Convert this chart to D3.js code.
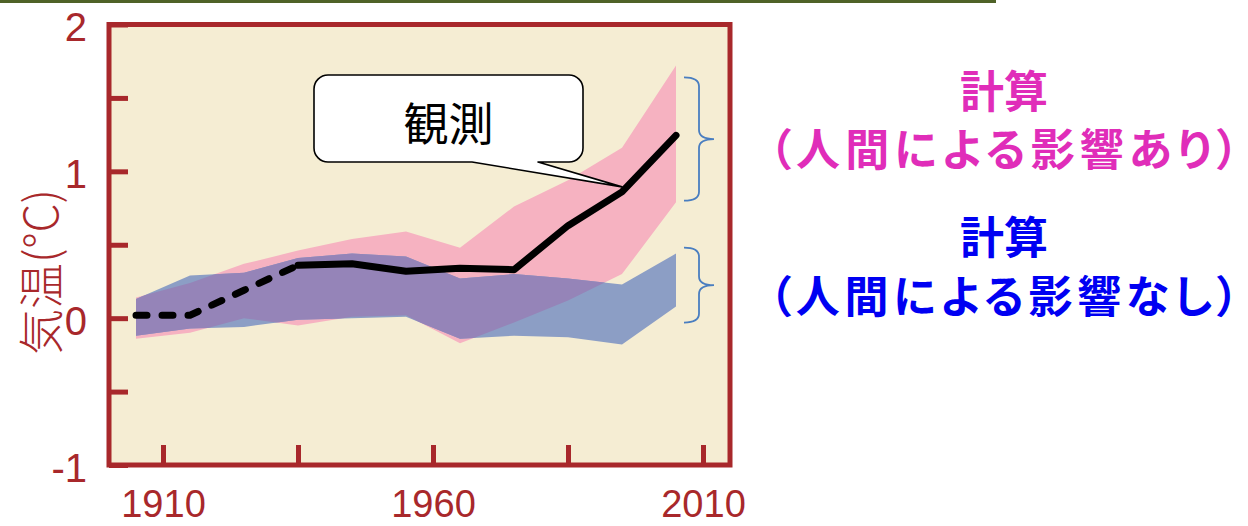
<!DOCTYPE html>
<html>
<head>
<meta charset="utf-8">
<script src="https://cdn.jsdelivr.net/npm/d3@7"></script>
<style>
  html, body { margin: 0; padding: 0; background: #ffffff; }
  svg { display: block; }
</style>
</head>
<body>
<svg id="chart" width="1248" height="526"></svg>
<script>
// Decade-centred years of the model ensembles and observations
const years = [1905, 1915, 1925, 1935, 1945, 1955, 1965, 1975, 1985, 1995, 2005];

// Observed temperature anomaly (°C)
const observed = [0.02, 0.02, 0.19, 0.36, 0.37, 0.32, 0.34, 0.33, 0.63, 0.86, 1.245];
// First observed points shown dashed (through 1935)
const dashedUntil = 1935;

// Model range with human influence (upper / lower)
const humanUpper = [0.14, 0.24, 0.37, 0.46, 0.54, 0.59, 0.48, 0.76, 0.94, 1.16, 1.72];
const humanLower = [-0.14, -0.10, 0.00, -0.05, 0.01, 0.02, -0.17, -0.03, 0.12, 0.30, 0.79];

// Model range with natural factors only (upper / lower)
const naturalUpper = [0.13, 0.29, 0.31, 0.41, 0.44, 0.42, 0.27, 0.30, 0.27, 0.23, 0.44];
const naturalLower = [-0.12, -0.07, -0.06, -0.01, 0.00, 0.01, -0.14, -0.12, -0.13, -0.18, 0.08];

// Axis ticks and labels
const xTicks = [1910, 1935, 1960, 1985, 2010];
const xLabelled = [1910, 1960, 2010];
const yTicks = [-1, -0.5, 0, 0.5, 1, 1.5, 2];
const yLabelled = [-1, 0, 1, 2];
const yTitle = "気温(°C)";

// Text blocks
const observedLabel = "観測";
const humanLabel = ["計算", "（人間による影響あり）"];
const naturalLabel = ["計算", "（人間による影響なし）"];
// Bracket extents (°C) at the right end of the bands
const humanBracket = [1.64, 0.80];
const naturalBracket = [0.48, -0.03];

const axisColor = "#a8282b";
const svg = d3.select("#chart");

// Olive rule across the top
svg.append("rect").attr("x", 0).attr("y", 0).attr("width", 996).attr("height", 3).attr("fill", "#4f6228");

const x = d3.scaleLinear().domain([1900, 2015]).range([109, 730]);
const y = d3.scaleLinear().domain([-1, 2]).range([465, 24.5]);

// Plot background
svg.append("rect")
  .attr("x", x(1900)).attr("y", y(2))
  .attr("width", x(2015) - x(1900)).attr("height", y(-1) - y(2))
  .attr("fill", "#f5edd3");

const rows = years.map((yr, i) => ({
  year: yr, obs: observed[i],
  hu: humanUpper[i], hl: humanLower[i],
  nu: naturalUpper[i], nl: naturalLower[i]
}));

const humanArea = d3.area().x(d => x(d.year)).y0(d => y(d.hl)).y1(d => y(d.hu));
const naturalArea = d3.area().x(d => x(d.year)).y0(d => y(d.nl)).y1(d => y(d.nu));

const defs = svg.append("defs");
defs.append("clipPath").attr("id", "humanClip")
  .append("path").attr("d", humanArea(rows));

svg.append("path").attr("d", humanArea(rows)).attr("fill", "#f6b2c1");
svg.append("path").attr("d", naturalArea(rows)).attr("fill", "#8c9ec5");
// Where both ranges overlap
svg.append("path").attr("d", naturalArea(rows)).attr("fill", "#9584b8")
  .attr("clip-path", "url(#humanClip)");

// Observations
const line = d3.line().x(d => x(d.year)).y(d => y(d.obs));
svg.append("path")
  .attr("d", line(rows.filter(d => d.year <= dashedUntil)))
  .attr("fill", "none").attr("stroke", "#000").attr("stroke-width", 7)
  .attr("stroke-linecap", "round").attr("stroke-linejoin", "round")
  .attr("stroke-dasharray", "11,15");
svg.append("path")
  .attr("d", line(rows.filter(d => d.year >= dashedUntil)))
  .attr("fill", "none").attr("stroke", "#000").attr("stroke-width", 7)
  .attr("stroke-linecap", "round").attr("stroke-linejoin", "round");

// Frame
svg.append("rect")
  .attr("x", x(1900)).attr("y", y(2))
  .attr("width", x(2015) - x(1900)).attr("height", y(-1) - y(2))
  .attr("fill", "none").attr("stroke", axisColor).attr("stroke-width", 5);

// Axes
const yAxis = svg.append("g").attr("transform", `translate(${x(1900)},0)`)
  .call(d3.axisLeft(y).tickValues(yTicks).tickSize(-19).tickPadding(22)
    .tickFormat(d => yLabelled.includes(d) ? String(d) : ""));
const xAxis = svg.append("g").attr("transform", `translate(0,${y(-1)})`)
  .call(d3.axisBottom(x).tickValues(xTicks).tickSize(-20).tickPadding(25)
    .tickFormat(d => xLabelled.includes(d) ? String(d) : ""));

[yAxis, xAxis].forEach(g => {
  g.select(".domain").remove();
  g.selectAll(".tick line").attr("stroke", axisColor).attr("stroke-width", 5);
  g.selectAll(".tick text")
    .attr("fill", axisColor)
    .style("font-family", "'Liberation Sans', Arial, sans-serif")
    .style("font-size", "40px");
});
yAxis.selectAll(".tick text").attr("dy", "0.4em");
xAxis.selectAll(".tick text").style("font-size", "38px").attr("dy", "0.72em");

// Y axis title
svg.append("text")
  .attr("transform", "translate(38,272) rotate(-90)")
  .attr("text-anchor", "middle")
  .attr("dominant-baseline", "central")
  .attr("fill", axisColor)
  .style("font-family", "'Noto Sans CJK JP', sans-serif")
  .style("font-size", "46px")
  .style("font-weight", 300)
  .text(yTitle);

// Callout pointing at the observed curve
const tipX = x(1995), tipY = y(0.86) - 5;
const bx0 = 314, bx1 = 583, by0 = 75, by1 = 162, r = 14;
const t0 = 472, t1 = 538;
const callout = d3.path();
callout.moveTo(bx0 + r, by0);
callout.lineTo(bx1 - r, by0);
callout.arcTo(bx1, by0, bx1, by0 + r, r);
callout.lineTo(bx1, by1 - r);
callout.arcTo(bx1, by1, bx1 - r, by1, r);
callout.lineTo(t1, by1);
callout.lineTo(tipX, tipY);
callout.lineTo(t0, by1);
callout.lineTo(bx0 + r, by1);
callout.arcTo(bx0, by1, bx0, by1 - r, r);
callout.lineTo(bx0, by0 + r);
callout.arcTo(bx0, by0, bx0 + r, by0, r);
callout.closePath();
svg.append("path").attr("d", callout.toString())
  .attr("fill", "#ffffff").attr("stroke", "#000").attr("stroke-width", 1.6)
  .attr("stroke-linejoin", "round");
svg.append("text")
  .attr("x", (bx0 + bx1) / 2).attr("y", 121)
  .attr("text-anchor", "middle").attr("dominant-baseline", "central")
  .attr("fill", "#000")
  .style("font-family", "'Noto Sans CJK JP', sans-serif")
  .style("font-size", "45px")
  .text(observedLabel);

// Curly brackets beside the band ends
function brace(top, bottom) {
  const xa = x(2005) + 8, xm = xa + 15, xt = xm + 15;
  const ya = y(top), yb = y(bottom), ym = (ya + yb) / 2, c = 9;
  const p = d3.path();
  p.moveTo(xa, ya);
  p.quadraticCurveTo(xm, ya, xm, ya + c);
  p.lineTo(xm, ym - c);
  p.quadraticCurveTo(xm, ym, xt, ym);
  p.quadraticCurveTo(xm, ym, xm, ym + c);
  p.lineTo(xm, yb - c);
  p.quadraticCurveTo(xm, yb, xa, yb);
  return p.toString();
}
[humanBracket, naturalBracket].forEach(b => {
  svg.append("path").attr("d", brace(b[0], b[1]))
    .attr("fill", "none").attr("stroke", "#4a7ec0").attr("stroke-width", 1.8);
});

// Side labels; proportional punctuation keeps the brackets tight
function sideLabel(lines, cy, color) {
  lines.forEach((t, i) => {
    const txt = svg.append("text")
      .attr("x", 1004).attr("y", cy[i])
      .attr("text-anchor", "middle").attr("dominant-baseline", "central")
      .attr("fill", color)
      .style("font-family", "'Noto Sans CJK JP', sans-serif")
      .style("font-size", "44px").style("font-weight", "bold")
      .style("font-feature-settings", "'palt'")
      .text(t);
    if (i === 1) txt.attr("textLength", 470).attr("lengthAdjust", "spacing");
  });
}
sideLabel(humanLabel, [89, 147], "#e02db9");
sideLabel(naturalLabel, [235, 294], "#0000f2");
</script>
</body>
</html>
